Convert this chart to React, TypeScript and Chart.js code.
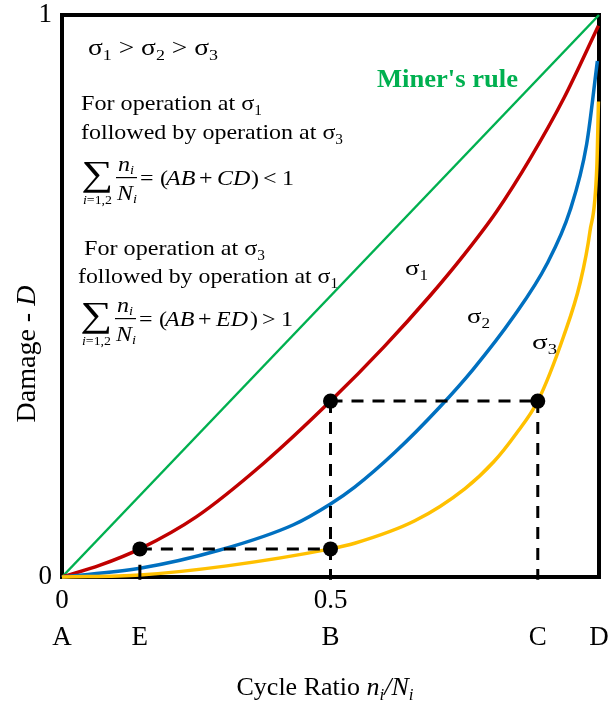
import React, { useEffect, useRef } from 'react';
import { Chart, registerables } from 'chart.js';

Chart.register(...registerables);

const FAMILY = "'Liberation Serif', 'Times New Roman', serif";

// Tick values and labels
const xTickValues = [0, 0.5];
const yTickValues = [0, 1];
const letterValues = [0, 0.145, 0.5, 0.886, 1];
const letterLabels = ['A', 'E', 'B', 'C', 'D'];

// Miner's rule (linear)
const minerX = [0, 1];
const minerY = [0, 1];

// sigma 1 curve
const sigma1X = [0, 0.071, 0.145, 0.25, 0.375, 0.5, 0.6, 0.685, 0.75, 0.809, 0.872, 0.934, 0.999];
const sigma1Y = [0, 0.021, 0.05, 0.107, 0.202, 0.313, 0.41, 0.5, 0.575, 0.65, 0.745, 0.851, 0.981];

// sigma 2 curve
const sigma2X = [0, 0.145, 0.294, 0.431, 0.5, 0.545, 0.62, 0.704, 0.766, 0.84, 0.903, 0.946, 0.977, 0.997];
const sigma2Y = [0, 0.0155, 0.048, 0.093, 0.13, 0.16, 0.222, 0.303, 0.37, 0.462, 0.557, 0.652, 0.77, 0.918];

// sigma 3 curve
const sigma3X = [0, 0.145, 0.307, 0.5, 0.545, 0.657, 0.75, 0.804, 0.845, 0.886, 0.934, 0.965, 0.983, 0.996, 0.999];
const sigma3Y = [0, 0.0036, 0.0198, 0.05, 0.06, 0.1, 0.157, 0.205, 0.254, 0.313, 0.428, 0.524, 0.614, 0.731, 0.846];

// Marked points E(σ1), B(σ3), B(σ1), C(σ3)
const pointX = [0.145, 0.5, 0.5, 0.886];
const pointY = [0.05, 0.05, 0.313, 0.313];

// Dashed guide segments
const lowGuideX = [0.145, 0.5];
const lowGuideY = [0.05, 0.05];
const highGuideX = [0.5, 0.886];
const highGuideY = [0.313, 0.313];
const bGuideX = [0.5, 0.5];
const bGuideY = [0.313, -0.005];
const cGuideX = [0.886, 0.886];
const cGuideY = [0.313, -0.005];
const eGuideX = [0.145, 0.145];
const eGuideY = [0.022, -0.005];

const mk = (xs: number[], ys: number[]) => xs.map((x, i) => ({ x, y: ys[i] }));

type Run = { t: string; it?: boolean; bold?: boolean; size: number; dy?: number };

function fontOf(r: Run) {
  return `${r.it ? 'italic ' : ''}${r.bold ? 'bold ' : ''}${r.size}px ${FAMILY}`;
}

function drawRuns(
  ctx: CanvasRenderingContext2D,
  runs: Run[],
  x: number,
  y: number,
  targetW?: number,
  align: 'left' | 'center' = 'left',
  color = '#000'
) {
  let w = 0;
  runs.forEach((r) => {
    ctx.font = fontOf(r);
    w += ctx.measureText(r.t).width;
  });
  const sx = targetW ? targetW / w : 1;
  ctx.save();
  ctx.fillStyle = color;
  ctx.textAlign = 'left';
  ctx.textBaseline = 'alphabetic';
  const startX = align === 'center' ? x - (w * sx) / 2 : x;
  ctx.translate(startX, y);
  ctx.scale(sx, 1);
  let cx = 0;
  runs.forEach((r) => {
    ctx.font = fontOf(r);
    ctx.fillText(r.t, cx, r.dy || 0);
    cx += ctx.measureText(r.t).width;
  });
  ctx.restore();
}

function fitGlyph(ctx: CanvasRenderingContext2D, g: string, x: number, y: number, w: number, h: number) {
  ctx.save();
  ctx.font = `40px ${FAMILY}`;
  ctx.textAlign = 'left';
  ctx.textBaseline = 'alphabetic';
  const m = ctx.measureText(g);
  const gw = m.actualBoundingBoxLeft + m.actualBoundingBoxRight;
  const gh = m.actualBoundingBoxAscent + m.actualBoundingBoxDescent;
  ctx.translate(x, y);
  ctx.scale(w / gw, h / gh);
  ctx.fillStyle = '#000';
  ctx.fillText(g, m.actualBoundingBoxLeft, m.actualBoundingBoxAscent);
  ctx.restore();
}

function drawFormula(ctx: CanvasRenderingContext2D, x0: number, B: number, second: string, op: string) {
  fitGlyph(ctx, '\u2211', x0, B - 24, 28, 32);
  drawRuns(ctx, [{ t: 'i', it: true, size: 13 }, { t: '=1,2', size: 13 }], x0 + 1, B + 19, 29);
  drawRuns(ctx, [{ t: 'n', it: true, size: 20 }, { t: 'i', it: true, size: 12, dy: 3 }], x0 + 36, B - 14, 16);
  ctx.save();
  ctx.fillStyle = '#000';
  ctx.fillRect(x0 + 34, B - 8, 21, 1.2);
  ctx.restore();
  drawRuns(ctx, [{ t: 'N', it: true, size: 20 }, { t: 'i', it: true, size: 12, dy: 3 }], x0 + 35, B + 15, 20);
  const pieces: [string, number, boolean][] = [
    ['=', 58, false],
    ['(', 78, false],
    ['AB', 84, true],
    ['+', 117, false],
    [second, 135, true],
    [')', 169, false],
    [op, 181, false],
    ['1', 200, false],
  ];
  pieces.forEach(([t, dx, it]) => {
    ctx.save();
    ctx.translate(x0 + dx, B);
    ctx.scale(1.2, 1);
    ctx.font = `${it ? 'italic ' : ''}20px ${FAMILY}`;
    ctx.textAlign = 'left';
    ctx.textBaseline = 'alphabetic';
    ctx.fillStyle = '#000';
    ctx.fillText(t, 0, 0);
    ctx.restore();
  });
}

const sig = (n: string, size = 22, sub = 14): Run[] => [
  { t: '\u03c3', size },
  { t: n, size: sub, dy: 5 },
];

const decorPlugin = {
  id: 'decor',
  beforeDatasetsDraw(chart: any) {
    const { ctx, chartArea } = chart;
    ctx.save();
    ctx.strokeStyle = '#000';
    ctx.lineWidth = 4;
    ctx.strokeRect(chartArea.left, chartArea.top, chartArea.right - chartArea.left, chartArea.bottom - chartArea.top);
    ctx.restore();
  },
  afterDatasetsDraw(chart: any) {
    const ctx: CanvasRenderingContext2D = chart.ctx;
    // inequality
    drawRuns(
      ctx,
      [...sig('1', 23, 15), { t: ' > ', size: 23 }, ...sig('2', 23, 15), { t: ' > ', size: 23 }, ...sig('3', 23, 15)],
      88,
      55,
      130
    );
    // Miner's rule
    drawRuns(ctx, [{ t: "Miner's rule", bold: true, size: 25 }], 377, 87, 141, 'left', '#00B050');
    // block 1
    drawRuns(ctx, [{ t: 'For operation at ', size: 22 }, ...sig('1')], 81, 110, 181);
    drawRuns(ctx, [{ t: 'followed by operation at ', size: 22 }, ...sig('3')], 81, 139, 262);
    drawFormula(ctx, 82, 185, 'CD', '<');
    // block 2
    drawRuns(ctx, [{ t: 'For operation at ', size: 22 }, ...sig('3')], 84, 255, 181);
    drawRuns(ctx, [{ t: 'followed by operation at ', size: 22 }, ...sig('1')], 78, 283, 260);
    drawFormula(ctx, 81, 326, 'ED', '>');
    // curve labels
    drawRuns(ctx, sig('1'), 405, 275, 23);
    drawRuns(ctx, sig('2'), 467, 323, 23);
    drawRuns(ctx, sig('3'), 532, 349, 25);
    // x title
    drawRuns(
      ctx,
      [
        { t: 'Cycle Ratio ', size: 26 },
        { t: 'n', it: true, size: 26 },
        { t: 'i', it: true, size: 17, dy: 5 },
        { t: '/N', it: true, size: 26 },
        { t: 'i', it: true, size: 17, dy: 5 },
      ],
      325,
      695,
      undefined,
      'center'
    );
    // y title
    ctx.save();
    ctx.translate(35, 354);
    ctx.rotate(-Math.PI / 2);
    drawRuns(ctx, [{ t: 'Damage - ', size: 28 }, { t: 'D', it: true, size: 28 }], 0, 0, undefined, 'center');
    ctx.restore();
  },
};

const tickFont = { family: FAMILY, size: 27, lineHeight: 1 };

const zeroPad = (s: any) => {
  s.paddingTop = 0;
  s.paddingBottom = 0;
  s.paddingLeft = 0;
  s.paddingRight = 0;
};

export default function App() {
  const ref = useRef<HTMLCanvasElement>(null);
  useEffect(() => {
    const line = { showLine: true, pointRadius: 0, fill: false, clip: false as any };
    const dash = { ...line, borderColor: '#000', borderWidth: 3, borderDash: [12, 9], order: 1 };
    const chart = new Chart(ref.current as HTMLCanvasElement, {
      type: 'scatter',
      data: {
        datasets: [
          { ...line, label: "Miner's rule", data: mk(minerX, minerY), borderColor: '#00B050', borderWidth: 2.5, order: 5 },
          { ...line, label: 'σ1', data: mk(sigma1X, sigma1Y), borderColor: '#C00000', borderWidth: 3.5, order: 4, cubicInterpolationMode: 'monotone' },
          { ...line, label: 'σ2', data: mk(sigma2X, sigma2Y), borderColor: '#0070C0', borderWidth: 3.5, order: 3, cubicInterpolationMode: 'monotone' },
          { ...line, label: 'σ3', data: mk(sigma3X, sigma3Y), borderColor: '#FFC000', borderWidth: 3.5, order: 2, cubicInterpolationMode: 'monotone' },
          { ...dash, label: 'low', data: mk(lowGuideX, lowGuideY) },
          { ...dash, label: 'high', data: mk(highGuideX, highGuideY) },
          { ...dash, label: 'B', data: mk(bGuideX, bGuideY) },
          { ...dash, label: 'C', data: mk(cGuideX, cGuideY) },
          { ...dash, label: 'E', data: mk(eGuideX, eGuideY), borderDash: [] },
          {
            label: 'points',
            data: mk(pointX, pointY),
            showLine: false,
            pointRadius: 7.5,
            pointBackgroundColor: '#000',
            pointBorderColor: '#000',
            pointBorderWidth: 0,
            clip: false as any,
            order: 0,
          },
        ] as any,
      },
      options: {
        responsive: false,
        animation: false,
        devicePixelRatio: 1,
        layout: { padding: { left: 0, right: 15, top: 15, bottom: 0 } },
        plugins: { legend: { display: false }, tooltip: { enabled: false }, title: { display: false } },
        events: [],
        scales: {
          x: {
            type: 'linear',
            min: 0,
            max: 1,
            position: 'bottom',
            weight: 0,
            grid: { display: false, drawTicks: false },
            border: { display: false },
            afterBuildTicks: (s: any) => {
              s.ticks = xTickValues.map((v) => ({ value: v }));
            },
            afterFit: (s: any) => {
              s.height = 40;
              zeroPad(s);
            },
            ticks: {
              font: tickFont,
              color: '#000',
              padding: 10,
              maxRotation: 0,
              autoSkip: false,
              callback: (v: any) => String(v),
            },
          },
          x2: {
            type: 'linear',
            min: 0,
            max: 1,
            position: 'bottom',
            weight: 1,
            grid: { display: false, drawTicks: false },
            border: { display: false },
            afterBuildTicks: (s: any) => {
              s.ticks = letterValues.map((v) => ({ value: v }));
            },
            afterFit: (s: any) => {
              s.height = 84;
              zeroPad(s);
            },
            ticks: {
              font: tickFont,
              color: '#000',
              padding: 7,
              maxRotation: 0,
              autoSkip: false,
              callback: (_v: any, i: number) => letterLabels[i],
            },
          },
          y: {
            type: 'linear',
            min: 0,
            max: 1,
            position: 'left',
            grid: { display: false, drawTicks: false },
            border: { display: false },
            afterBuildTicks: (s: any) => {
              s.ticks = yTickValues.map((v) => ({ value: v }));
            },
            afterFit: (s: any) => {
              s.width = 62;
              zeroPad(s);
            },
            ticks: {
              font: tickFont,
              color: '#000',
              padding: 10,
              autoSkip: false,
              callback: (v: any) => String(v),
            },
          },
        },
      } as any,
      plugins: [decorPlugin],
    });
    return () => chart.destroy();
  }, []);
  return (
    <div style={{ position: 'absolute', left: 0, top: 0, width: 614, height: 701, background: '#fff' }}>
      <canvas ref={ref} width={614} height={701} style={{ display: 'block', width: 614, height: 701 }} />
    </div>
  );
}
